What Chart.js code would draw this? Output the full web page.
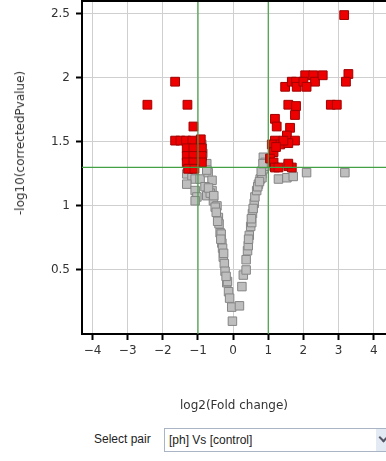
<!DOCTYPE html>
<html><head><meta charset="utf-8">
<script src="https://cdn.jsdelivr.net/npm/chart.js@4.4.1/dist/chart.umd.min.js"></script>
<style>
html,body{margin:0;padding:0;background:#fff;overflow:hidden}
#wrap{position:relative;width:386px;height:461px;overflow:hidden;font-family:'DejaVu Sans',sans-serif;color:#333}
#box{position:absolute;left:0;top:0;width:386px;height:420px}
#ytitle{position:absolute;left:20px;top:143px;transform:translate(-50%,-50%) rotate(-90deg);white-space:nowrap;font-size:12px}
#pairLbl{position:absolute;left:94px;top:432px;font-size:12px;color:#222;font-family:'Liberation Sans',sans-serif}
#pairSel{position:absolute;left:164px;top:428px;width:240px;height:24px;border:1px solid #a9b5c4;box-sizing:border-box;background:#fff;font-size:12px;line-height:22px;padding-left:4px;color:#222;font-family:'Liberation Sans',sans-serif}
#pairBtn{position:absolute;left:211px;top:0;width:20px;height:22px;background:#e3eaf3}
#pairBtn:after{content:'';position:absolute;left:4px;top:5px;width:5px;height:5px;border-right:2px solid #556;border-bottom:2px solid #556;transform:rotate(45deg)}
</style></head>
<body>
<div id="wrap">
  <div id="box"><canvas id="volcano"></canvas></div>
  <div id="ytitle">-log10(correctedPvalue)</div>
  <div id="pairLbl">Select pair</div>
  <div id="pairSel">[ph] Vs [control]<span id="pairBtn"></span></div>
</div>
<script>
// significant (red) points: log2 fold change / -log10 corrected p
const sigX=[-2.44,-1.65,-1.30,-1.13,-1.65,-1.50,-1.34,-1.16,-0.92,-1.32,-1.13,-0.89,-1.32,-1.13,-0.89,-1.32,-1.13,-0.89,-1.28,-1.10,
  1.48,1.67,1.79,1.81,2.05,2.00,2.28,2.33,2.55,2.09,3.16,3.28,3.21,2.78,2.95,
  1.57,1.79,1.76,1.19,1.24,1.62,1.53,1.76,1.19,1.34,1.57,1.43,1.10,1.15,1.22,1.05,1.15,1.19,1.29,1.57,1.67,1.57];
const sigY=[1.79,1.97,1.79,1.62,1.51,1.51,1.51,1.51,1.52,1.45,1.45,1.45,1.39,1.39,1.39,1.34,1.34,1.34,1.29,1.29,
  1.93,1.97,1.97,1.93,2.02,1.97,2.02,1.97,2.02,1.93,2.49,2.03,1.97,1.79,1.79,
  1.79,1.78,1.71,1.68,1.62,1.61,1.55,1.51,1.51,1.48,1.49,1.51,1.48,1.42,1.46,1.37,1.34,1.30,1.30,1.31,1.30,1.33];
// non-significant (grey) points
const nsX=[-0.89,-0.86,-0.75,-1.32,-1.17,-1.08,-0.94,-0.71,-0.60,-1.32,-1.08,-1.03,-0.80,-0.75,-0.60,-0.56,-0.46,-1.08,-0.65,-0.51,
  -0.42,-0.40,-0.37,-0.34,-0.32,-0.30,-0.28,-0.25,-0.23,-0.18,-0.16,-0.13,-0.10,-0.04,-0.02,-0.70,-0.55,-0.48,-0.44,-0.35,-0.27,-0.20,-0.75,
  0.18,0.25,0.29,0.37,0.37,0.41,0.43,0.46,0.50,0.53,0.55,0.60,0.62,0.67,0.72,0.77,0.82,0.88,0.91,0.86,0.91,0.82,
  0.44,0.52,0.57,0.70,0.75,0.80,0.85,1.29,1.53,1.71,2.09,3.18];
const nsY=[1.48,1.41,1.33,1.25,1.22,1.21,1.21,1.26,1.20,1.17,1.12,1.07,1.15,1.08,1.12,1.04,1.00,1.04,1.10,0.99,
  0.91,0.86,0.79,0.78,0.71,0.67,0.60,0.55,0.49,0.40,0.41,0.33,0.28,0.21,0.10,1.14,1.08,0.95,0.88,0.74,0.63,0.45,1.28,
  0.22,0.37,0.46,0.50,0.58,0.65,0.69,0.77,0.84,0.87,0.94,1.02,1.07,1.12,1.17,1.21,1.25,1.29,1.31,1.38,1.34,1.22,
  0.74,0.90,0.98,1.15,1.19,1.27,1.33,1.21,1.22,1.23,1.26,1.26];
const fcCut=[-1,1];          // log2 fold change thresholds
const pCut=1.301;            // -log10(0.05)
const xRange=[-4.3,4.35];
const yRange=[0,2.6];

const toPts=(xs,ys)=>xs.map((x,i)=>({x,y:ys[i]}));
const font={family:"'DejaVu Sans',sans-serif",size:12};
const green='#44a044';

const cutLine=pts=>({type:'line',data:pts,borderColor:green,borderWidth:1.2,pointRadius:0,order:0});

const topBorder={id:'topBorder',afterDraw(c){
  const {ctx,chartArea:a}=c;ctx.save();ctx.strokeStyle='#000';ctx.lineWidth=2;
  ctx.beginPath();ctx.moveTo(a.left,a.top);ctx.lineTo(a.right,a.top);ctx.stroke();ctx.restore();
}};

new Chart(document.getElementById('volcano'),{
  type:'scatter',
  data:{datasets:[
    cutLine([{x:fcCut[0],y:yRange[0]},{x:fcCut[0],y:yRange[1]}]),
    cutLine([{x:fcCut[1],y:yRange[0]},{x:fcCut[1],y:yRange[1]}]),
    cutLine([{x:xRange[0],y:pCut},{x:xRange[1],y:pCut}]),
    {label:'sig',data:toPts(sigX,sigY),pointStyle:'rect',pointRadius:6.2,backgroundColor:'#ee0000',borderColor:'#a00000',borderWidth:1,order:1},
    {label:'ns',data:toPts(nsX,nsY),pointStyle:'rect',pointRadius:6,backgroundColor:'#bebebe',borderColor:'#858585',borderWidth:1,order:2}
  ]},
  plugins:[topBorder],
  options:{
    responsive:true,maintainAspectRatio:false,animation:false,
    layout:{autoPadding:false,padding:{top:1,right:0,left:0,bottom:0}},
    plugins:{legend:{display:false},tooltip:{enabled:false}},
    scales:{
      x:{type:'linear',min:xRange[0],max:xRange[1],
        ticks:{stepSize:1,includeBounds:false,padding:4,color:'#333',font,callback:v=>v<0?'\u2212'+Math.abs(v):String(v)},
        grid:{color:'#cfcfcf',tickColor:'#000',tickLength:6,tickWidth:2},
        border:{display:true,color:'#000',width:2},
        title:{display:true,text:'log2(Fold change)',color:'#333',font,padding:{top:0,bottom:7}},
        afterFit:s=>{s.height=86;s.paddingLeft=0;s.paddingRight=0;}
      },
      y:{type:'linear',min:yRange[0],max:yRange[1],
        ticks:{stepSize:0.5,includeBounds:false,padding:6,color:'#333',font,callback:v=>String(v)},
        afterBuildTicks:s=>{s.ticks=s.ticks.filter(t=>t.value>0);},
        grid:{color:'#cfcfcf',tickColor:'#000',tickLength:6,tickWidth:2},
        border:{display:true,color:'#000',width:2},
        afterFit:s=>{s.width=82;s.paddingTop=0;s.paddingBottom=0;}
      }
    }
  }
});
</script>
</body></html>
